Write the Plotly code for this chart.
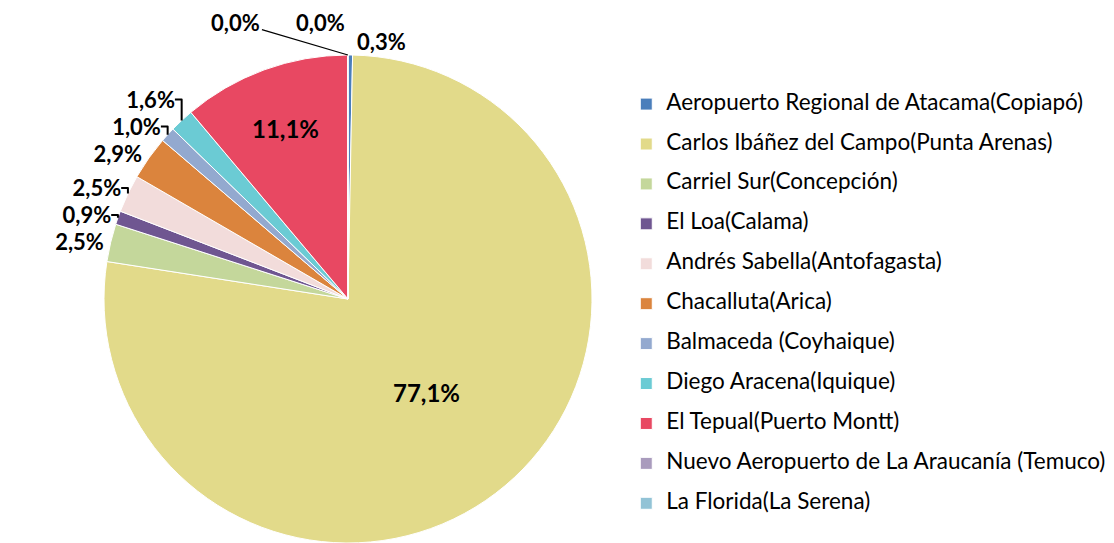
import math
import plotly.graph_objects as go

labels = [
    "Aeropuerto Regional de Atacama(Copiapó)",
    "Carlos Ibáñez del Campo(Punta Arenas)",
    "Carriel Sur(Concepción)",
    "El Loa(Calama)",
    "Andrés Sabella(Antofagasta)",
    "Chacalluta(Arica)",
    "Balmaceda (Coyhaique)",
    "Diego Aracena(Iquique)",
    "El Tepual(Puerto Montt)",
    "Nuevo Aeropuerto de La Araucanía (Temuco)",
    "La Florida(La Serena)",
]
values = [0.3, 77.1, 2.5, 0.9, 2.5, 2.9, 1.0, 1.6, 11.1, 0.02, 0.01]
colors = ["#4A7EBB", "#E2DA8A", "#C4D79B", "#6F5691", "#F2DCDB", "#DB843D",
          "#93A9CF", "#6BCBD4", "#E84862", "#A99BBD", "#92C3D6"]

W, H = 1114, 543
dom_x = [96 / W, 584 / W]
dom_y = [8 / H, 1 - 47 / H]

texts = [f"{v:.1f}%".replace(".", ",") for v in values]
positions = ["inside" if v > 10 else "outside" for v in values]
# the two near-zero slices at 12 o'clock get their labels as annotations
positions[-1] = "none"
positions[-2] = "none"
legend_names = [f'<span style="font-size:22.5px">{l}</span><br> ' for l in labels]

label_font = dict(family="Lato", size=22, color="black", weight="bold")

fig = go.Figure(go.Pie(
    labels=legend_names,
    values=values,
    text=texts,
    textinfo="text",
    textposition=positions,
    insidetextorientation="horizontal",
    sort=False,
    direction="clockwise",
    rotation=0,
    automargin=False,
    marker=dict(colors=colors, line=dict(color="white", width=1)),
    textfont=label_font,
    outsidetextfont=label_font,
    insidetextfont=dict(family="Lato", size=24, color="black", weight="bold"),
    domain=dict(x=dom_x, y=dom_y),
    hoverinfo="skip",
))

# edge point of a slice, derived from the data
total = sum(values)
r_px = min((dom_x[1] - dom_x[0]) * W, (dom_y[1] - dom_y[0]) * H) / 2
cx = (dom_x[0] + dom_x[1]) / 2
cy = (dom_y[0] + dom_y[1]) / 2


def edge_point(i):
    theta = 2 * math.pi * (sum(values[:i]) + values[i] / 2) / total
    return cx + r_px * math.sin(theta) / W, cy + r_px * math.cos(theta) / H


# La Florida: label up-left with leader line
lx, ly = edge_point(len(values) - 1)
fig.add_annotation(
    x=lx, y=ly, xref="paper", yref="paper",
    text=texts[-1], showarrow=True, arrowhead=0, arrowwidth=1.3,
    arrowcolor="black", ax=-112, ay=-33, standoff=0, font=label_font,
)
# Nuevo Aeropuerto: label just above the top of the pie
nx, ny = edge_point(len(values) - 2)
fig.add_annotation(
    x=nx, y=ny, xref="paper", yref="paper",
    text=texts[-2], showarrow=False, xanchor="center", yanchor="middle",
    xshift=-27, yshift=33, font=label_font,
)

fig.update_layout(
    width=W, height=H,
    margin=dict(l=0, r=0, t=0, b=0, autoexpand=False),
    paper_bgcolor="white",
    plot_bgcolor="white",
    font=dict(family="Lato", color="black"),
    legend=dict(
        x=0.555, y=0.852, xanchor="left", yanchor="top",
        font=dict(family="Lato", size=14.2, color="black"),
        valign="top",
        bgcolor="rgba(0,0,0,0)",
    ),
)

fig.write_html("out.html")
